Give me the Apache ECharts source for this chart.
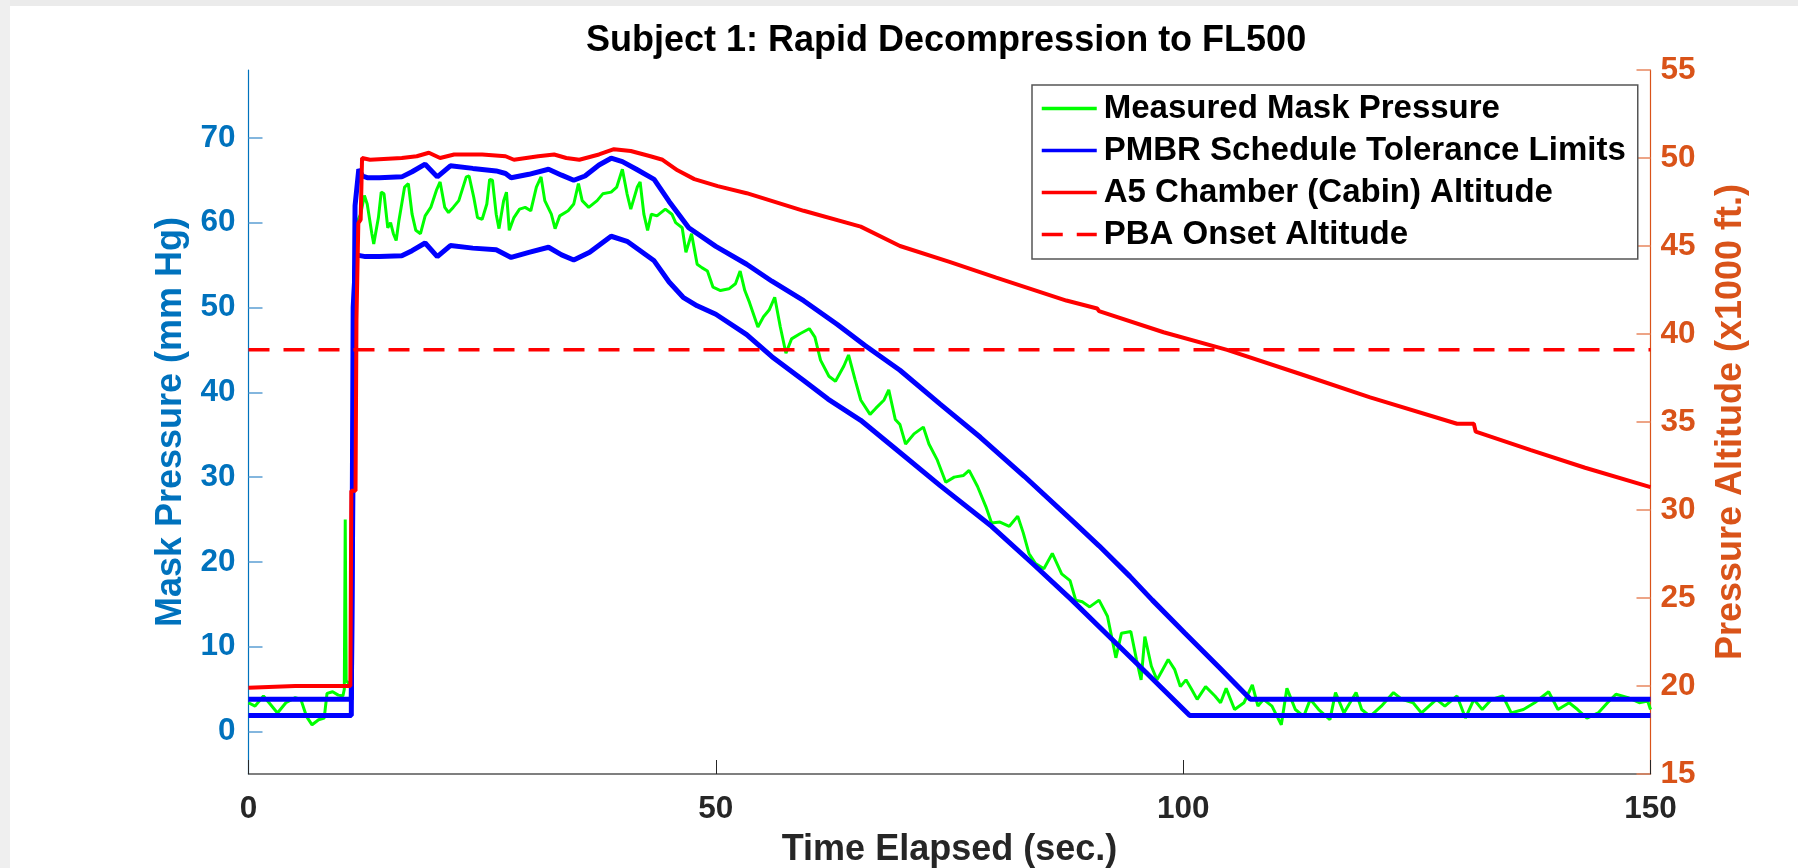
<!DOCTYPE html>
<html>
<head>
<meta charset="utf-8">
<script src="https://cdn.jsdelivr.net/npm/echarts@6/dist/echarts.min.js"></script>
<style>
html,body{margin:0;padding:0;background:#fff;}
#chart{width:1798px;height:868px;}
</style>
</head>
<body>
<div id="chart"></div>
<script>
// ---- Data (time in s) ----
const xTicks = [0, 50, 100, 150];
const leftTicks = [0, 10, 20, 30, 40, 50, 60, 70];
const rightTicks = [15, 20, 25, 30, 35, 40, 45, 50, 55];

// Measured mask pressure (mm Hg)
const maskPressure = [
 [0,3.4],[0.7,3.0],[1.6,4.2],[2.2,3.4],[3.1,2.2],[4.0,3.4],[5.0,4.0],[5.6,3.8],[6.2,1.8],[6.8,0.8],[7.5,1.4],[8.1,1.6],[8.4,4.5],[9.0,4.7],[9.6,4.3],[10.1,4.2],
 [10.25,5],[10.35,25],[10.45,6],[10.9,5.5],[11.2,40],[11.5,59.8],[12.0,61],[12.4,63.2],[12.7,62.2],[13.2,58.7],[13.4,57.5],[13.9,60.6],[14.2,63.6],[14.5,63.4],[14.9,59.4],[15.2,60.0],[15.5,58.7],[15.8,57.9],[16.1,60.3],
 [16.7,64.2],[17.1,64.6],[17.5,61.0],[17.9,59.1],[18.4,58.7],[18.9,60.8],[19.5,61.8],[20.1,63.8],[20.5,64.8],[21.0,61.8],[21.4,61.2],[21.9,61.8],[22.5,62.6],[23.3,65.4],[23.6,65.5],[24.1,63.0],[24.5,60.6],[25.0,60.4],
 [25.5,62.2],[25.8,65.1],[26.1,65.0],[26.5,61.0],[26.8,59.3],[27.3,62.6],[27.6,63.6],[27.9,59.1],[28.4,60.6],[29.0,61.6],[29.6,61.8],[30.2,61.4],[30.8,64.2],[31.3,65.4],[31.7,62.6],[32.4,61.0],[32.8,59.3],[33.3,60.8],
 [34.2,61.4],[34.8,62.2],[35.3,64.6],[35.7,62.6],[36.4,61.8],[37.3,62.6],[37.9,63.4],[38.8,63.6],[39.4,64.2],[40.0,66.3],[40.5,63.4],[40.9,61.6],[41.6,64.2],[41.9,64.8],[42.3,61.0],[42.7,59.1],[43.1,61.0],[43.7,60.8],
 [44.6,61.6],[45.3,61.0],[45.7,60.0],[46.4,59.4],[46.8,56.5],[47.4,58.7],[48.0,55.1],[48.5,54.7],[49.1,54.3],[49.7,52.4],[50.5,52.0],[51.4,52.2],[52.1,52.8],[52.6,54.3],[53.1,52.0],[53.6,50.6],[54.5,47.7],[55.1,48.9],
 [55.7,49.7],[56.3,51.2],[56.9,47.7],[57.5,44.6],[58.1,46.3],[59.0,46.9],[60.0,47.5],[60.6,46.5],[61.2,43.8],[62.1,41.9],[62.8,41.3],[63.7,43.1],[64.2,44.4],[64.9,41.5],[65.5,39.1],[66.5,37.4],[67.1,38.1],[68.0,39.1],
 [68.5,40.3],[69.2,36.8],[69.7,36.2],[70.3,33.9],[71.2,35.1],[72.2,35.9],[72.8,33.9],[73.7,32.0],[74.6,29.4],[75.5,30.0],[76.5,30.2],[77.1,30.8],[78.0,28.9],[78.9,26.5],[79.5,24.6],[80.4,24.7],[81.4,24.2],[82.3,25.4],
 [82.9,23.4],[83.5,21.0],[84.2,19.8],[85.1,19.2],[86.0,21.0],[87.0,18.6],[87.9,17.8],[88.5,15.5],[89.2,15.3],[90.0,14.7],[91.0,15.5],[91.9,13.6],[92.8,8.7],[93.4,11.6],[94.4,11.8],[95.0,8.5],[95.5,6.1],[95.9,11.2],
 [96.6,7.7],[97.2,6.1],[97.8,7.3],[98.4,8.5],[99.1,7.3],[99.7,5.3],[100.3,6.1],[100.9,5.0],[101.5,3.8],[102.4,5.3],[103.4,4.2],[104.0,3.4],[104.6,5.1],[105.5,2.6],[106.5,3.4],[107.4,5.5],[108.0,3.0],[108.6,3.8],
 [109.5,3.0],[110.5,0.8],[111.1,5.1],[112.0,2.6],[112.9,1.8],[113.6,3.8],[114.5,2.6],[115.7,1.4],[116.3,4.6],[117.2,2.2],[118.5,4.6],[119.1,2.6],[120.0,1.8],[121.2,3.0],[122.5,4.6],[123.4,3.8],[124.6,3.4],[125.5,2.2],
 [127.1,3.8],[128.0,3.0],[129.3,4.2],[130.2,1.6],[131.1,3.8],[132.0,2.6],[133.0,3.8],[134.2,4.2],[135.1,2.2],[136.4,2.6],[137.6,3.4],[139.1,4.7],[140.1,2.6],[141.3,3.4],[142.2,2.6],[143.2,1.6],[144.4,2.2],[145.4,3.4],
 [146.3,4.4],[147.6,4.0],[148.8,3.4],[149.7,3.6],[150,2.6]
];

// PMBR schedule tolerance limits (mm Hg)
const upperLimit = [
 [0,3.8],[11.0,3.8],[11.4,62],[11.8,66.3],[12.2,65.5],[12.7,65.3],[14,65.3],[16.4,65.4],[17.5,66.0],[18.9,66.9],[20.2,65.4],[21.6,66.7],[24,66.4],[26.5,66.1],[27.5,65.8],[28.1,65.3],[30,65.7],[32.1,66.3],[33.5,65.6],
 [34.8,65.0],[36,65.5],[37.5,66.8],[38.8,67.6],[40,67.2],[41.5,66.3],[43.4,65.1],[45,62.5],[47.1,59.4],[50,57.2],[53.3,55.1],[56,53.1],[59.4,50.8],[63,48.0],[66,45.5],[69.7,42.6],[74,38.6],[78.3,34.7],[83,30.1],
 [88.1,24.9],[91,21.9],[94.3,18.3],[96.7,15.5],[100.2,11.6],[104,7.4],[107.2,3.8],[150,3.8]
];
const lowerLimit = [
 [0,1.9],[11.0,1.9],[11.2,50],[11.5,56.2],[12.5,56.0],[14,56.0],[16.4,56.1],[17.5,56.7],[18.9,57.6],[20.2,56.0],[21.6,57.3],[24,57.0],[26.5,56.8],[28.1,55.9],[30,56.5],[32.1,57.1],[33.5,56.2],[34.8,55.6],[36.5,56.5],
 [38.8,58.4],[40.5,57.8],[43.4,55.5],[45,53.0],[46.5,51.2],[48,50.2],[50,49.2],[53.3,46.8],[56,44.2],[59.4,41.4],[62,39.2],[65.5,36.7],[69.7,32.9],[74,29.0],[79.5,24.2],[84,19.7],[88.1,15.5],[92,11.3],[96,7.0],
 [100.7,1.9],[150,1.9]
];

// A5 chamber (cabin) altitude (x1000 ft)
const cabinAltitude = [
 [0,19.9],[5,20.0],[10.9,20.0],[11.0,31.1],[11.45,31.1],[11.55,40.8],[11.75,46.3],[12.0,46.5],[12.15,50.0],[13,49.9],[16.4,50.0],[18,50.1],[19.3,50.3],[20.5,50.0],[22,50.2],[25,50.2],[27.5,50.1],[28.4,49.9],[31,50.1],
 [32.7,50.2],[34,50.0],[35.4,49.9],[37.5,50.2],[39.1,50.5],[40.9,50.4],[43,50.1],[44.3,49.9],[45.9,49.3],[47.7,48.8],[50.2,48.4],[53.3,48.0],[59.4,47.0],[65.5,46.1],[69.7,45.0],[75,44.1],[80,43.2],[87.5,41.9],
 [90.8,41.45],[91.0,41.3],[97.9,40.1],[104.7,39.1],[112.7,37.7],[120,36.4],[129.3,34.9],[131.1,34.9],[131.3,34.45],[137.2,33.4],[143,32.4],[150,31.3]
];

// PBA onset altitude (x1000 ft)
const pbaOnset = 39.1;
const pbaLine = [[0, pbaOnset], [150, pbaOnset]];

const FONT = "'Liberation Sans', Arial, Helvetica, sans-serif";
const BLUE_AX = '#0072BD';
const ORANGE_AX = '#D95319';

const chart = echarts.init(document.getElementById('chart'), null, {renderer: 'canvas'});
chart.setOption({
  animation: false,
  backgroundColor: '#ffffff',
  textStyle: {fontFamily: FONT},
  graphic: [
    {type: 'rect', shape: {x: 0, y: 0, width: 1798, height: 6}, style: {fill: '#ebebeb'}, silent: true},
    {type: 'rect', shape: {x: 0, y: 0, width: 10, height: 868}, style: {fill: '#efefef'}, silent: true}
  ],
  title: {
    text: 'Subject 1: Rapid Decompression to FL500',
    left: 586, top: 23, padding: 0,
    textStyle: {fontFamily: FONT, fontSize: 36, fontWeight: 'bold', color: '#000'}
  },
  grid: {left: 248.5, right: 147.5, top: 70, bottom: 94, containLabel: false, outerBoundsMode: 'none'},
  legend: {
    orient: 'vertical',
    left: 1032, top: 85,
    padding: [7, 12, 8, 8],
    backgroundColor: '#fff',
    borderColor: '#555',
    borderWidth: 1.5,
    itemWidth: 55, itemHeight: 32, itemGap: 9,
    data: ['Measured Mask Pressure', 'PMBR Schedule Tolerance Limits', 'A5 Chamber (Cabin) Altitude', 'PBA Onset Altitude'],
    lineStyle: {width: 3.5},
    itemStyle: {opacity: 0},
    textStyle: {fontFamily: FONT, fontSize: 33, fontWeight: 'bold', color: '#000', padding: [0, 0, 0, 2]}
  },
  xAxis: {
    type: 'value', min: 0, max: 150, interval: 50,
    name: 'Time Elapsed (sec.)', nameLocation: 'middle', nameGap: 58,
    nameTextStyle: {fontFamily: FONT, fontSize: 36, fontWeight: 'bold', color: '#262626'},
    axisLine: {show: true, onZero: false, lineStyle: {color: '#555', width: 1.5}},
    axisTick: {show: true, inside: true, length: 14, lineStyle: {color: '#262626', width: 1}},
    axisLabel: {margin: 19, fontFamily: FONT, fontSize: 31.5, fontWeight: 'bold', color: '#262626'},
    splitLine: {show: false}
  },
  yAxis: [
    {
      type: 'value', min: -5, max: 78, position: 'left',
      name: 'Mask Pressure (mm Hg)', nameLocation: 'middle', nameGap: 57,
      nameTextStyle: {fontFamily: FONT, fontSize: 36, fontWeight: 'bold', color: BLUE_AX},
      axisLine: {show: true, onZero: false, lineStyle: {color: BLUE_AX, width: 1.2}},
      axisTick: {show: true, inside: true, length: 14, customValues: leftTicks, lineStyle: {color: '#5b9fd3', width: 1.5}},
      axisLabel: {margin: 13, customValues: leftTicks, fontFamily: FONT, fontSize: 31.5, fontWeight: 'bold', color: BLUE_AX, padding: [4, 0, 0, 0]},
      splitLine: {show: false}
    },
    {
      type: 'value', min: 15, max: 55, interval: 5, position: 'right',
      name: 'Pressure Altitude (x1000 ft.)', nameLocation: 'middle', nameGap: 63,
      nameTextStyle: {fontFamily: FONT, fontSize: 36, fontWeight: 'bold', color: ORANGE_AX},
      axisLine: {show: true, onZero: false, lineStyle: {color: ORANGE_AX, width: 1.2}},
      axisTick: {show: true, inside: true, length: 14, lineStyle: {color: '#e8875f', width: 1.5}},
      axisLabel: {margin: 10, fontFamily: FONT, fontSize: 31.5, fontWeight: 'bold', color: ORANGE_AX, padding: [4, 0, 0, 0]},
      splitLine: {show: false}
    }
  ],
  series: [
    {name: 'Measured Mask Pressure', type: 'line', yAxisIndex: 0, data: maskPressure, symbol: 'none', lineStyle: {color: '#00ff00', width: 3}, itemStyle: {color: '#00ff00'}, z: 2},
    {name: 'PMBR Schedule Tolerance Limits', type: 'line', yAxisIndex: 0, data: upperLimit, symbol: 'none', lineStyle: {color: '#0000ff', width: 5}, itemStyle: {color: '#0000ff'}, z: 3},
    {name: 'PMBR Schedule Tolerance Limits', type: 'line', yAxisIndex: 0, data: lowerLimit, symbol: 'none', lineStyle: {color: '#0000ff', width: 5}, itemStyle: {color: '#0000ff'}, z: 3},
    {name: 'A5 Chamber (Cabin) Altitude', type: 'line', yAxisIndex: 1, data: cabinAltitude, symbol: 'none', lineStyle: {color: '#ff0000', width: 4}, itemStyle: {color: '#ff0000'}, z: 4},
    {name: 'PBA Onset Altitude', type: 'line', yAxisIndex: 1, data: pbaLine, symbol: 'none', lineStyle: {color: '#ff0000', width: 3.5, type: [21, 14]}, itemStyle: {color: '#ff0000'}, z: 5}
  ]
});
</script>
</body>
</html>
